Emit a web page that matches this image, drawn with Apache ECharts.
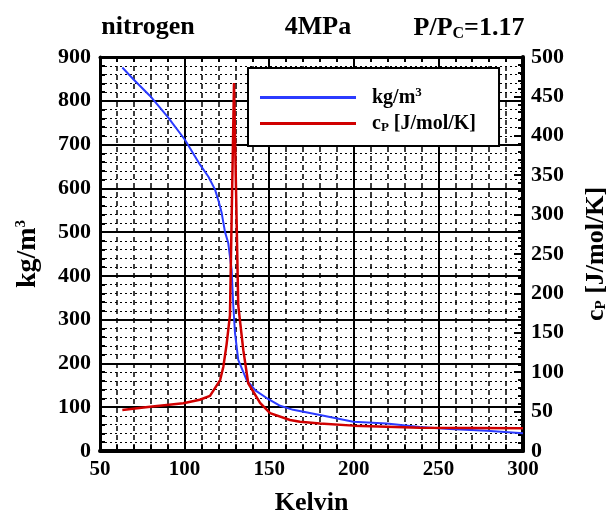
<!DOCTYPE html>
<html>
<head>
<meta charset="utf-8">
<script src="https://cdn.jsdelivr.net/npm/echarts@6/dist/echarts.min.js"></script>
<style>html,body{margin:0;padding:0;background:#fff}#c{width:608px;height:519px}</style>
</head>
<body>
<div id="c"></div>
<script>
// Density (blue, left axis)
const rhoT = [63.2, 70, 79.6, 90, 100.2, 109.1, 114, 118, 120, 121.9, 123.9, 125.8, 127.8, 128.8, 129.8, 131.7, 136.7, 142, 148.5, 156, 164.2, 180, 199.7, 219.4, 239, 256.8, 278.5, 300];
const rhoV = [876, 848, 811, 763, 711, 654, 627, 597, 572, 544, 500, 475, 414, 330, 269, 208, 162, 138, 121, 104, 94, 82, 67, 63, 55, 50, 46, 40.5];
// Heat capacity (red, right axis)
const cpT = [63.2, 79.6, 99.2, 109, 115, 121, 122.9, 124.8, 126.8, 129.2, 131.7, 134.7, 137.6, 144.6, 150.5, 162.3, 168.2, 180, 199.7, 239, 270, 300];
const cpV = [52, 56.3, 60.6, 65, 70, 90, 107, 135, 172, 467, 185, 128, 86, 61, 48, 39.4, 37.2, 35, 32.2, 29.6, 29.2, 28.8];

const FONT = 'Liberation Serif';
const black = '#000';
const chart = echarts.init(document.getElementById('c'), null, {renderer: 'canvas'});
const rhoData = rhoT.map((t, i) => [t, rhoV[i]]);
const cpData = cpT.map((t, i) => [t, cpV[i]]);

const xlbl = {fontFamily: FONT, fontWeight: 'bold', fontSize: 21, color: black};
const ylbl = {fontFamily: FONT, fontWeight: 'bold', fontSize: 22, color: black};
function nameStyle(size) {
  return {
    fontFamily: FONT, fontWeight: 'bold', fontSize: size, color: black,
    rich: {
      sup: {fontFamily: FONT, fontWeight: 'bold', fontSize: 15, color: black, padding: [0, 0, 13, 0]},
      sub: {fontFamily: FONT, fontWeight: 'bold', fontSize: 15, color: black, padding: [11, 0, 0, 0]}
    }
  };
}
const titleStyle = {fontFamily: FONT, fontWeight: 'bold', fontSize: 26, color: black,
  rich: {sub: {fontFamily: FONT, fontWeight: 'bold', fontSize: 16, color: black, padding: [12, 0, 0, 0]}}};

chart.setOption({
  animation: false,
  backgroundColor: '#fff',
  title: [
    {text: 'nitrogen', left: 143, top: 9, textAlign: 'center', textStyle: titleStyle},
    {text: '4MPa', left: 313, top: 9, textAlign: 'center', textStyle: titleStyle},
    {text: 'P/P{sub|C}=1.17', left: 464, top: 9, textAlign: 'center', textStyle: titleStyle}
  ],
  legend: {
    orient: 'vertical',
    left: 248, top: 68,
    padding: [18, 23, 12, 12],
    itemGap: 6,
    itemWidth: 96, itemHeight: 3,
    icon: 'rect',
    backgroundColor: '#fff',
    borderColor: black, borderWidth: 2,
    textStyle: {fontFamily: FONT, fontWeight: 'bold', fontSize: 20, color: black, padding: [0, 0, 0, 11],
      rich: {
        sup: {fontFamily: FONT, fontWeight: 'bold', fontSize: 13, color: black, padding: [0, 0, 10, 0]},
        sub: {fontFamily: FONT, fontWeight: 'bold', fontSize: 13, color: black, padding: [8, 0, 0, 0]}
      }},
    formatter: function (n) { return n === 'rho' ? 'kg/m{sup|3}' : 'c{sub|P} [J/mol/K]'; },
    data: ['rho', 'cp']
  },
  grid: {left: 100, right: 85, top: 57, bottom: 68, show: false, outerBoundsMode: 'none', containLabel: false},
  xAxis: [{
    type: 'value', min: 50, max: 300, interval: 50, position: 'bottom',
    name: 'Kelvin', nameLocation: 'middle', nameGap: 39,
    nameTextStyle: {fontFamily: FONT, fontWeight: 'bold', fontSize: 26, color: black},
    axisLabel: Object.assign({margin: 8}, xlbl),
    axisLine: {show: true, onZero: false, lineStyle: {color: black, width: 4}},
    axisTick: {show: true, inside: true, length: 6, lineStyle: {color: black, width: 2}},
    minorTick: {show: true, splitNumber: 5, length: 6, lineStyle: {color: black, width: 2}},
    splitLine: {show: true, lineStyle: {color: black, width: 2}},
    minorSplitLine: {show: true, lineStyle: {color: black, width: 1.5, type: [5, 4]}}
  }, {
    type: 'value', min: 50, max: 300, interval: 50, position: 'top',
    axisLabel: {show: false},
    axisLine: {show: true, onZero: false, lineStyle: {color: black, width: 3}},
    axisTick: {show: true, inside: true, length: 6, lineStyle: {color: black, width: 2}},
    minorTick: {show: true, splitNumber: 5, length: 5, lineStyle: {color: black, width: 2}},
    splitLine: {show: false}
  }],
  yAxis: [{
    type: 'value', min: 0, max: 900, interval: 100, position: 'left',
    name: 'kg/m{sup|3}', nameLocation: 'middle', nameGap: 58, nameRotate: 90,
    nameTextStyle: nameStyle(28),
    axisLabel: Object.assign({margin: 9}, ylbl),
    axisLine: {show: true, onZero: false, lineStyle: {color: black, width: 3}},
    axisTick: {show: true, inside: true, length: 8, lineStyle: {color: black, width: 2}},
    minorTick: {show: true, splitNumber: 5, length: 5, lineStyle: {color: black, width: 2}},
    splitLine: {show: true, lineStyle: {color: black, width: 2}},
    minorSplitLine: {show: true, lineStyle: {color: black, width: 1, type: [2, 3]}}
  }, {
    type: 'value', min: 0, max: 500, interval: 50, position: 'right',
    name: 'c{sub|P} [J/mol/K]', nameLocation: 'middle', nameGap: 60, nameRotate: 90,
    nameTextStyle: nameStyle(26),
    axisLabel: Object.assign({margin: 8}, ylbl),
    axisLine: {show: true, onZero: false, lineStyle: {color: black, width: 4}},
    axisTick: {show: true, inside: true, length: 9, lineStyle: {color: black, width: 2}},
    minorTick: {show: true, splitNumber: 5, length: 5, lineStyle: {color: black, width: 2}},
    splitLine: {show: false}
  }],
  series: [{
    name: 'rho', type: 'line', xAxisIndex: 0, yAxisIndex: 0, data: rhoData,
    showSymbol: false, symbol: 'none', smooth: false,
    lineStyle: {color: '#2b3bff', width: 2}, itemStyle: {color: '#2b3bff'}, z: 3
  }, {
    name: 'cp', type: 'line', xAxisIndex: 0, yAxisIndex: 1, data: cpData,
    showSymbol: false, symbol: 'none', smooth: false,
    lineStyle: {color: '#d00000', width: 2.5}, itemStyle: {color: '#d00000'}, z: 4
  }]
});
</script>
</body>
</html>
